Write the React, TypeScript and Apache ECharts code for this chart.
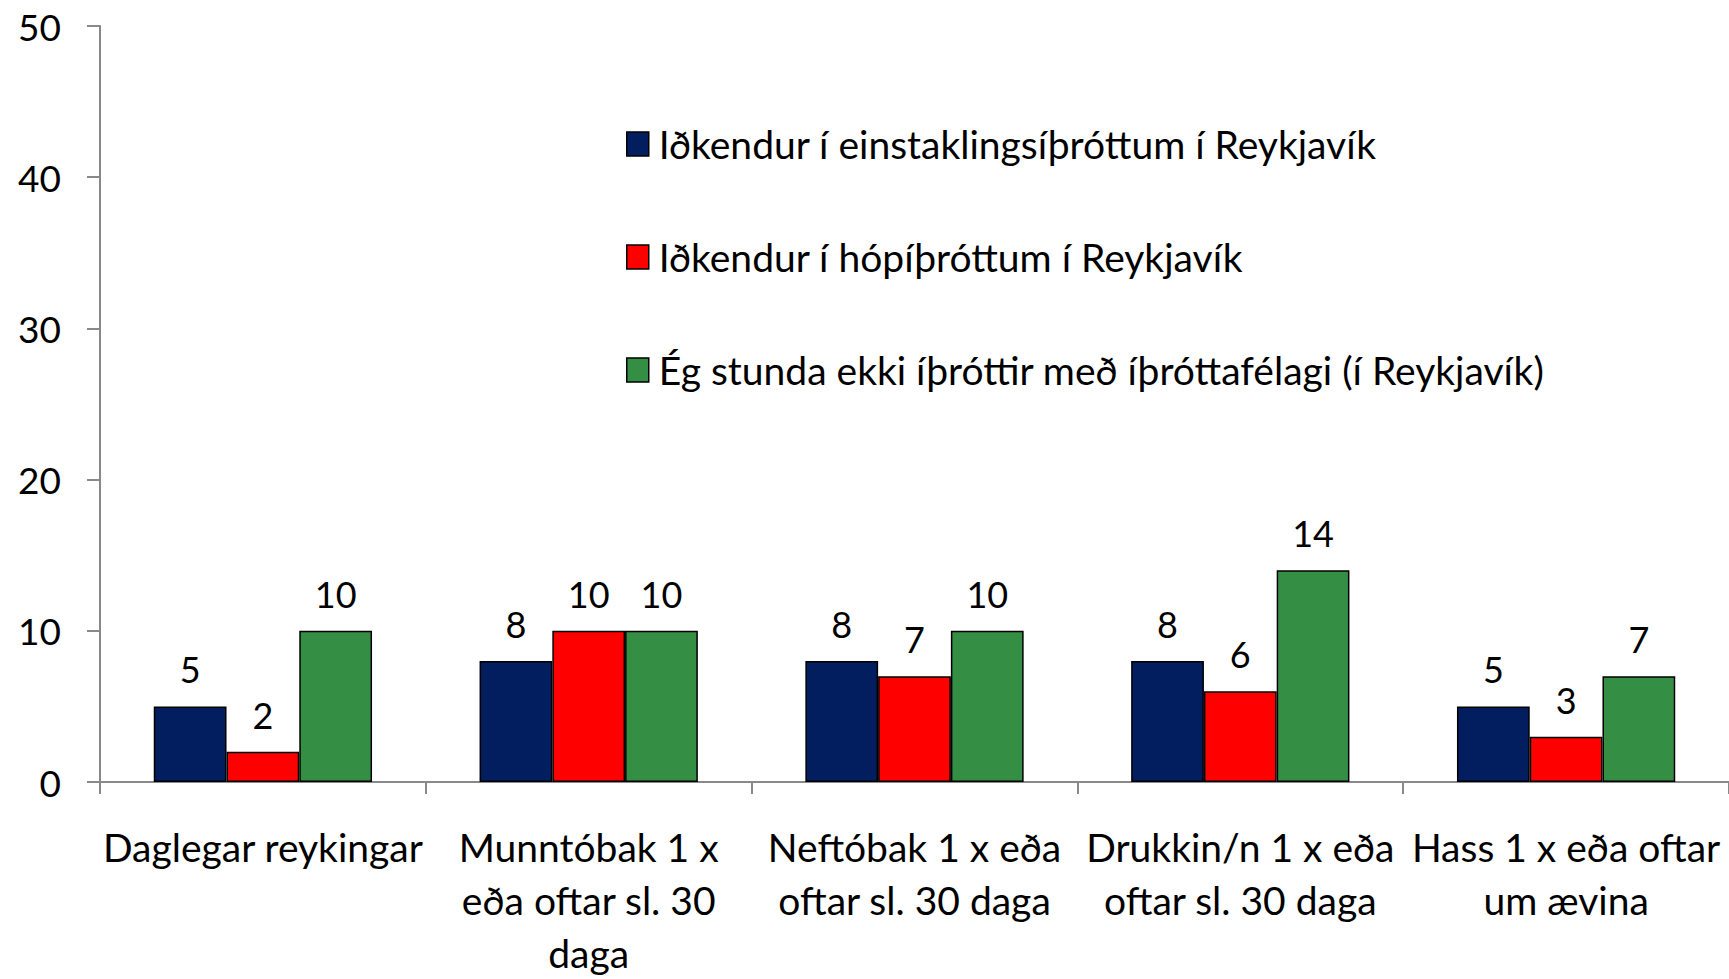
import React, { useEffect, useRef } from "react";
import * as echarts from "echarts";

const categories = [
  "Daglegar reykingar",
  "Munntóbak 1 x\neða oftar sl. 30\ndaga",
  "Neftóbak 1 x eða\noftar sl. 30 daga",
  "Drukkin/n 1 x eða\noftar sl. 30 daga",
  "Hass 1 x eða oftar\num ævina",
];
const seriesNames = [
  "Iðkendur í einstaklingsíþróttum í Reykjavík",
  "Iðkendur í hópíþróttum í Reykjavík",
  "Ég stunda ekki íþróttir með íþróttafélagi (í Reykjavík)",
];
const individual = [5, 8, 8, 8, 5];
const team = [2, 10, 7, 6, 3];
const none = [10, 10, 10, 14, 7];
const colors = ["#021E5E", "#FF0000", "#348F44"];

export default function App() {
  const ref = useRef<HTMLDivElement>(null);
  useEffect(() => {
    document.body.style.margin = "0";
    const chart = echarts.init(ref.current!, null, { renderer: "svg" });
    const font = "Lato, 'Open Sans', sans-serif";
    const mk = (name: string, data: number[], color: string) => ({
      name,
      type: "bar",
      data,
      barGap: "0%",
      barCategoryGap: "33%",
      itemStyle: { color, borderColor: "#000", borderWidth: 1.5 },
      label: {
        show: true,
        position: "top",
        distance: 19,
        color: "#000",
        fontSize: 36,
        fontFamily: font,
      },
    });
    chart.setOption({
      animation: false,
      backgroundColor: "#fff",
      textStyle: { fontFamily: font },
      color: colors,
      legend: {
        orient: "vertical",
        left: 621,
        top: 119,
        itemWidth: 22,
        itemHeight: 24,
        itemGap: 73,
        icon: "rect",
        itemStyle: { borderColor: "#000", borderWidth: 1.5 },
        textStyle: {
          fontSize: 39,
          lineHeight: 40,
          color: "#000",
          fontFamily: font,
          padding: [0, 0, 0, 5],
        },
        data: seriesNames,
      },
      grid: { left: 100, top: 26, right: 0, bottom: 179, containLabel: false },
      xAxis: {
        type: "category",
        data: categories,
        boundaryGap: true,
        axisLine: { lineStyle: { color: "#898989", width: 2 } },
        axisTick: { show: true, length: 12, alignWithLabel: false, lineStyle: { color: "#898989", width: 2 } },
        axisLabel: {
          interval: 0,
          margin: 38,
          fontSize: 39,
          lineHeight: 53,
          color: "#000",
          fontFamily: font,
        },
      },
      yAxis: {
        type: "value",
        min: 0,
        max: 50,
        interval: 10,
        splitLine: { show: false },
        axisLine: { show: true, lineStyle: { color: "#898989", width: 2 } },
        axisTick: { show: true, length: 13, lineStyle: { color: "#898989", width: 2 } },
        axisLabel: { margin: 39, fontSize: 37, color: "#000", fontFamily: font },
      },
      series: [
        mk(seriesNames[0], individual, colors[0]),
        mk(seriesNames[1], team, colors[1]),
        mk(seriesNames[2], none, colors[2]),
      ],
    });
    return () => chart.dispose();
  }, []);
  return <div ref={ref} style={{ width: 1729, height: 979 }} />;
}
